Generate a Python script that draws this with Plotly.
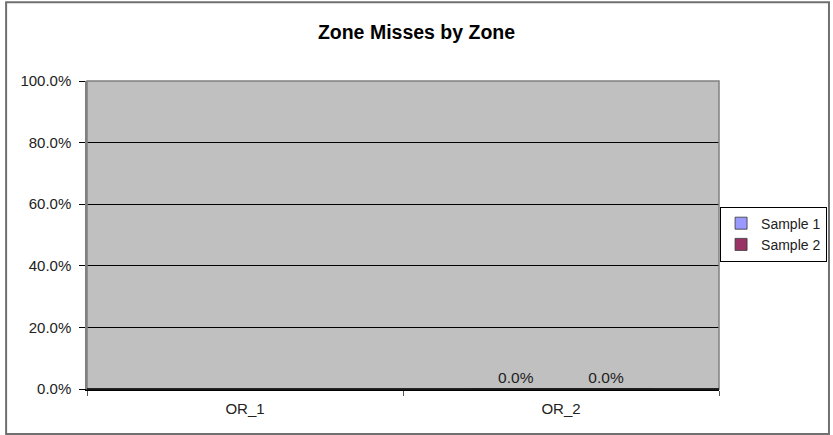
import plotly.graph_objects as go

# Zone miss rates (percent) per zone
zones = ["OR_1", "OR_2"]
sample_1 = [None, 0.0]
sample_2 = [None, 0.0]
y_ticks = [0, 20, 40, 60, 80, 100]
y_tick_text = [f"{v:.1f}%" for v in y_ticks]

FONT = "Liberation Sans, Arial, sans-serif"

fig = go.Figure()
fig.add_trace(go.Bar(
    name="Sample 1", x=zones, y=sample_1,
    marker=dict(color="#9999FF", line=dict(color="#333333", width=0.8)),
    texttemplate="%{y:.1f}%", textposition="outside", cliponaxis=False,
    textfont=dict(family=FONT, size=15.5, color="#222222"),
))
fig.add_trace(go.Bar(
    name="Sample 2", x=zones, y=sample_2,
    marker=dict(color="#993366", line=dict(color="#333333", width=0.8)),
    texttemplate="%{y:.1f}%", textposition="outside", cliponaxis=False,
    textfont=dict(family=FONT, size=15.5, color="#222222"),
))

fig.update_layout(
    width=833, height=435,
    margin=dict(l=87, r=114, t=81, b=46, autoexpand=False),
    paper_bgcolor="#FFFFFF",
    plot_bgcolor="#C0C0C0",
    barmode="group", bargap=0.4286, bargroupgap=0,
    font=dict(family=FONT, size=15, color="#222222"),
    title=dict(text="<b>Zone Misses by Zone</b>", x=0.5, xanchor="center",
               y=0.926, yanchor="middle",
               font=dict(family=FONT, size=19.5, color="#000000")),
    legend=dict(x=1.171, xanchor="right", y=0.503, yanchor="middle",
                bordercolor="#000000", borderwidth=1, bgcolor="#FFFFFF",
                font=dict(family=FONT, size=14, color="#222222"),
                itemwidth=30, tracegroupgap=0),
    showlegend=True,
    xaxis=dict(
        type="category", showgrid=False,
        ticks="outside", tickson="boundaries", ticklen=5, tickcolor="#555555",
        showline=True, linecolor="#000000", linewidth=1.5,
        ticklabelstandoff=5,
        tickfont=dict(family=FONT, size=15, color="#222222"),
    ),
    yaxis=dict(
        range=[0, 100], tickvals=y_ticks, ticktext=y_tick_text,
        showgrid=True, gridcolor="#000000", gridwidth=1,
        zeroline=False,
        ticks="outside", ticklen=6, tickcolor="#000000",
        showline=True, linecolor="#808080", linewidth=1.5,
        ticklabelstandoff=5,
        tickfont=dict(family=FONT, size=15, color="#222222"),
    ),
    shapes=[
        # plot-area frame
        dict(type="rect", xref="paper", yref="paper", x0=0, x1=1, y0=0, y1=1,
             line=dict(color="#808080", width=1.5), layer="above"),
        # baseline redrawn on top of the frame
        dict(type="line", xref="paper", yref="paper", x0=0, x1=1, y0=0, y1=0,
             line=dict(color="#000000", width=1.5), layer="above"),
        # chart border
        dict(type="rect", xref="paper", yref="paper",
             x0=-0.128, x1=1.174, y0=-0.146, y1=1.256,
             line=dict(color="#707070", width=2), layer="above"),
    ],
)

fig.write_html("out.html")
